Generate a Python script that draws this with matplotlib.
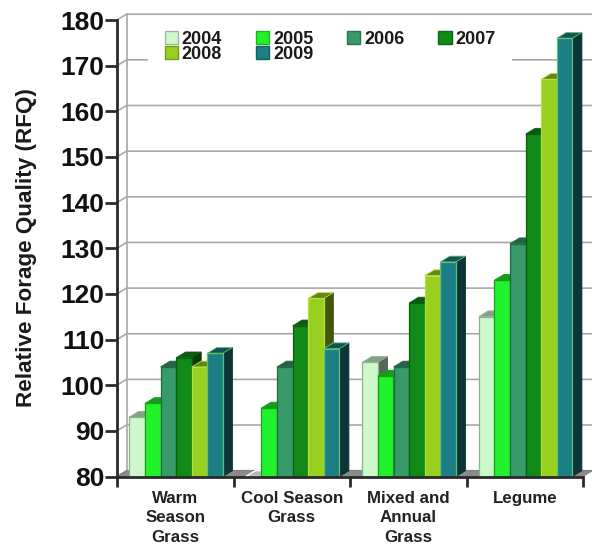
import matplotlib
matplotlib.use("Agg")
import matplotlib.pyplot as plt
from matplotlib.patches import Polygon, Rectangle, Patch
from matplotlib.colors import to_rgb
import numpy as np

plt.rcParams['font.family'] = ['Liberation Sans', 'DejaVu Sans']
plt.rcParams['font.weight'] = 'bold'

categories = ["Warm\nSeason\nGrass", "Cool Season\nGrass", "Mixed and\nAnnual\nGrass", "Legume"]
years = ["2004", "2005", "2006", "2007", "2008", "2009"]
v2004 = [93, np.nan, 105, 115]
v2005 = [96, 95, 102, 123]
v2006 = [104, 104, 104, 131]
v2007 = [106, 113, 118, 155]
v2008 = [104, 119, 124, 167]
v2009 = [107, 108, 127, 176]
series = [v2004, v2005, v2006, v2007, v2008, v2009]
colors = ["#ccf8cc", "#22f22c", "#379a68", "#128a18", "#98d020", "#1d7f86"]
edges = ["#8fb08f", "#12a018", "#1f6a45", "#0a5f0e", "#b5e040", "#5fc070"]
yticks = list(range(80, 181, 10))

W, H = 592, 547
L, R, B, T = 117, 583, 476.5, 20
fig = plt.figure(figsize=(W / 100, H / 100), dpi=100, facecolor="white")
ax = fig.add_axes([L / W, 1 - B / H, (R - L) / W, (B - T) / H])
ax.set_xlim(0, len(categories))
ax.set_ylim(yticks[0], yticks[-1])

ux = (R - L) / len(categories)
uy = (B - T) / (yticks[-1] - yticks[0])
dx, dy = 9.5 / ux, 5.8 / uy
bw = 15.6 / ux
start = 12.3 / ux


def shade(c, f):
    return tuple(min(1, x * f) for x in to_rgb(c))


# Back wall and gridlines
grid = "#a8a8a8"
for y in yticks:
    ax.plot([0, dx, len(categories) + dx], [y, y + dy, y + dy], color=grid, lw=1.2,
            clip_on=False, zorder=1, solid_capstyle="butt")
ax.plot([dx, dx], [yticks[0] + dy, yticks[-1] + dy], color=grid, lw=1.2, clip_on=False, zorder=1)

# White plate behind the legend
ax.add_patch(Rectangle(((148 - L) / ux, 80 + (B - 62) / uy), 364 / ux, 32 / uy,
                       fc="white", ec="none", zorder=2, clip_on=False))

# Floor, visible in the gaps
ax.add_patch(Polygon([(0, 80), (dx, 80 + dy), (4 + dx, 80 + dy), (4, 80)],
                     fc="#8a8a8a", ec="#777777", lw=0.5, zorder=2, clip_on=False))

# Bars
z = 3
for g in range(len(categories)):
    for s, vals in enumerate(series):
        v = vals[g]
        x0 = g + start + s * bw
        c = colors[s]
        if np.isnan(v):
            # A missing value leaves only a pale footprint on the floor
            ax.add_patch(Polygon([(x0, 80), (x0 + dx, 80 + dy), (x0 + bw + dx, 80 + dy), (x0 + bw, 80)],
                                 fc="#b4b4b4", ec="white", lw=1.0, zorder=z, clip_on=False))
            z += 1
            continue
        ax.add_patch(Polygon([(x0 + bw, 80), (x0 + bw + dx, 80 + dy), (x0 + bw + dx, v + dy), (x0 + bw, v)],
                             fc=shade(c, 0.42), ec=shade(c, 0.35), lw=0.6, zorder=z, clip_on=False))
        ax.add_patch(Polygon([(x0, v), (x0 + dx, v + dy), (x0 + bw + dx, v + dy), (x0 + bw, v)],
                             fc=shade(c, 0.65), ec=edges[s], lw=0.6, zorder=z, clip_on=False))
        ax.bar(x0, v - 80, width=bw, bottom=80, align="edge", color=c, edgecolor=edges[s],
               linewidth=0.9, zorder=z + 0.5, clip_on=False)
        z += 1

# Axes
for sp in ("top", "right"):
    ax.spines[sp].set_visible(False)
for sp in ("left", "bottom"):
    ax.spines[sp].set_color("#2a2a2a")
    ax.spines[sp].set_linewidth(2.0)
    ax.spines[sp].set_zorder(200)
ax.set_yticks(yticks)
ax.set_yticklabels([str(t) for t in yticks], fontsize=19, color="#111111")
ax.tick_params(axis="y", length=9, width=2, color="#2a2a2a", pad=0)
ax.set_xticks(np.arange(len(categories) + 1))
ax.set_xticklabels([""] * (len(categories) + 1))
ax.tick_params(axis="x", length=7, width=2, color="#2a2a2a")
for g, name in enumerate(categories):
    ax.text(g + 0.5, 80 - 14 / uy, name, ha="center", va="top", fontsize=12.2,
            color="#222222", linespacing=1.4, clip_on=False)
fig.text(27 / W, 1 - 248 / H, "Relative Forage Quality (RFQ)", rotation=90, ha="center", va="center",
         fontsize=16.2, color="#1a1a1a")

# Legend: ncol=4 fills columns 2, 2, 1, 1
order = [0, 4, 1, 5, 2, 3]
handles = [Patch(fc=colors[i], ec=shade(colors[i], 0.75), lw=1) for i in order]
labels = [years[i] for i in order]
leg = ax.legend(handles, labels, ncol=4, frameon=False, loc="upper left",
                bbox_to_anchor=(161 / W, 1 - 27 / H), bbox_transform=fig.transFigure,
                fontsize=13, labelcolor="#1a1a1a", handlelength=0.75, handleheight=0.72,
                handletextpad=0.2, columnspacing=1.87, labelspacing=-0.08,
                borderpad=0.2, borderaxespad=0)
leg.set_zorder(300)

fig.savefig("out.png", dpi=100, facecolor="white")
